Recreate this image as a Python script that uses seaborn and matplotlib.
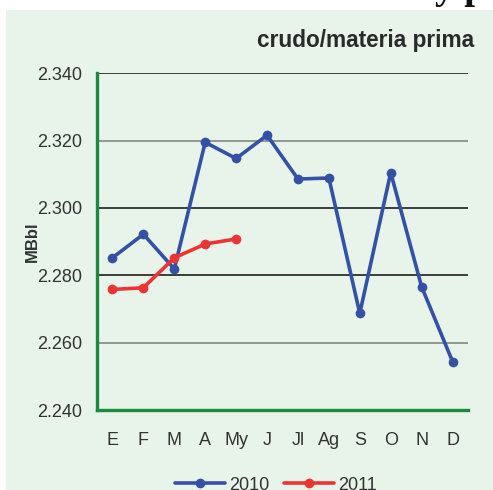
import numpy as np
import pandas as pd
import matplotlib
matplotlib.use("Agg")
import matplotlib.pyplot as plt
from matplotlib.patches import Rectangle
import seaborn as sns

months = ["E", "F", "M", "A", "My", "J", "Jl", "Ag", "S", "O", "N", "D"]
prod_2010 = [2.2852, 2.2922, 2.2819, 2.3195, 2.3147, 2.3216,
             2.3086, 2.3089, 2.2687, 2.3105, 2.2766, 2.2544]
prod_2011 = [2.2758, 2.2763, 2.2852, 2.2893, 2.2908]
y_ticks = [2.240, 2.260, 2.280, 2.300, 2.320, 2.340]
y_tick_labels = ["2.240", "2.260", "2.280", "2.300", "2.320", "2.340"]

sns.set_theme(style="white")
plt.rcParams["font.family"] = ["Liberation Sans", "DejaVu Sans"]
plt.rcParams["font.stretch"] = "condensed"

BG = "#e8f3ea"
GREEN = "#1e8a3e"
BLUE = "#3352a6"
RED = "#ee3333"
TXT = "#333333"

fig = plt.figure(figsize=(4.93, 4.90), dpi=100, facecolor="white")
fig.patches.append(Rectangle((6 / 493, 0), 1, 1 - 10 / 490, transform=fig.transFigure,
                             facecolor=BG, edgecolor="none", zorder=-10))
fig.text(0.985, 1 + 2 / 490, "y p", ha="right", va="baseline", fontsize=28,
         family="Liberation Serif", weight="bold", stretch="normal", color="#111111")

ax = fig.add_axes([97 / 493, 1 - 410 / 490, 371 / 493, 336.7 / 490])
ax.set_facecolor("none")

df10 = pd.DataFrame({"mes": np.arange(len(prod_2010)), "valor": prod_2010})
df11 = pd.DataFrame({"mes": np.arange(len(prod_2011)), "valor": prod_2011})
sns.lineplot(data=df10, x="mes", y="valor", ax=ax, color=BLUE, lw=2.6,
             marker="o", markersize=7, markeredgewidth=0, label="2010", zorder=4)
sns.lineplot(data=df11, x="mes", y="valor", ax=ax, color=RED, lw=2.6,
             marker="o", markersize=7, markeredgewidth=0, label="2011", zorder=5)

ax.set_xlim(-0.5, len(months) - 0.5)
ax.set_ylim(y_ticks[0], y_ticks[-1])

# horizontal reference lines
grid_cols = {2.260: "#8a8f8a", 2.280: "#2e2e2e", 2.300: "#2e2e2e",
             2.320: "#8a8f8a", 2.340: "#2e2e2e"}
for yv, c in grid_cols.items():
    ax.axhline(yv, color=c, lw=1.3, zorder=1)

# axes frame
for s in ["top", "right"]:
    ax.spines[s].set_visible(False)
for s in ["left", "bottom"]:
    ax.spines[s].set_color(GREEN)
    ax.spines[s].set_linewidth(2.4)
    ax.spines[s].set_zorder(6)

ax.set_yticks(y_ticks)
ax.set_yticklabels(y_tick_labels)
ax.tick_params(axis="y", length=6, width=2.2, color=GREEN, direction="out",
               labelsize=13, labelcolor=TXT, pad=4.5)

ax.set_xticks(np.arange(-0.5, len(months), 1.0))
ax.set_xticklabels([])
ax.set_xticks(np.arange(len(months)), minor=True)
ax.set_xticklabels(months, minor=True)
ax.tick_params(axis="x", which="major", length=6, width=2.2, color=GREEN, direction="out")
ax.tick_params(axis="x", which="minor", length=0, labelsize=13, labelcolor=TXT, pad=15.5)

ax.set_xlabel("")
ax.set_ylabel("MBbl", fontsize=12, weight="bold", color=TXT)
ax.yaxis.set_label_coords(-0.155, 0.5)

fig.text(474 / 493, 1 - 40 / 490, "crudo/materia prima", ha="right", va="center",
         fontsize=16.3, weight="bold", family="Liberation Sans", color="#2a2a2a")

leg = ax.legend(loc="center", bbox_to_anchor=(276 / 493, 1 - 485 / 490),
                bbox_transform=fig.transFigure, ncol=2, frameon=False,
                fontsize=13, handlelength=2.75, handletextpad=0.25,
                columnspacing=0.8, borderpad=0, labelcolor=TXT)

fig.savefig("out.png", dpi=100, facecolor="white")
